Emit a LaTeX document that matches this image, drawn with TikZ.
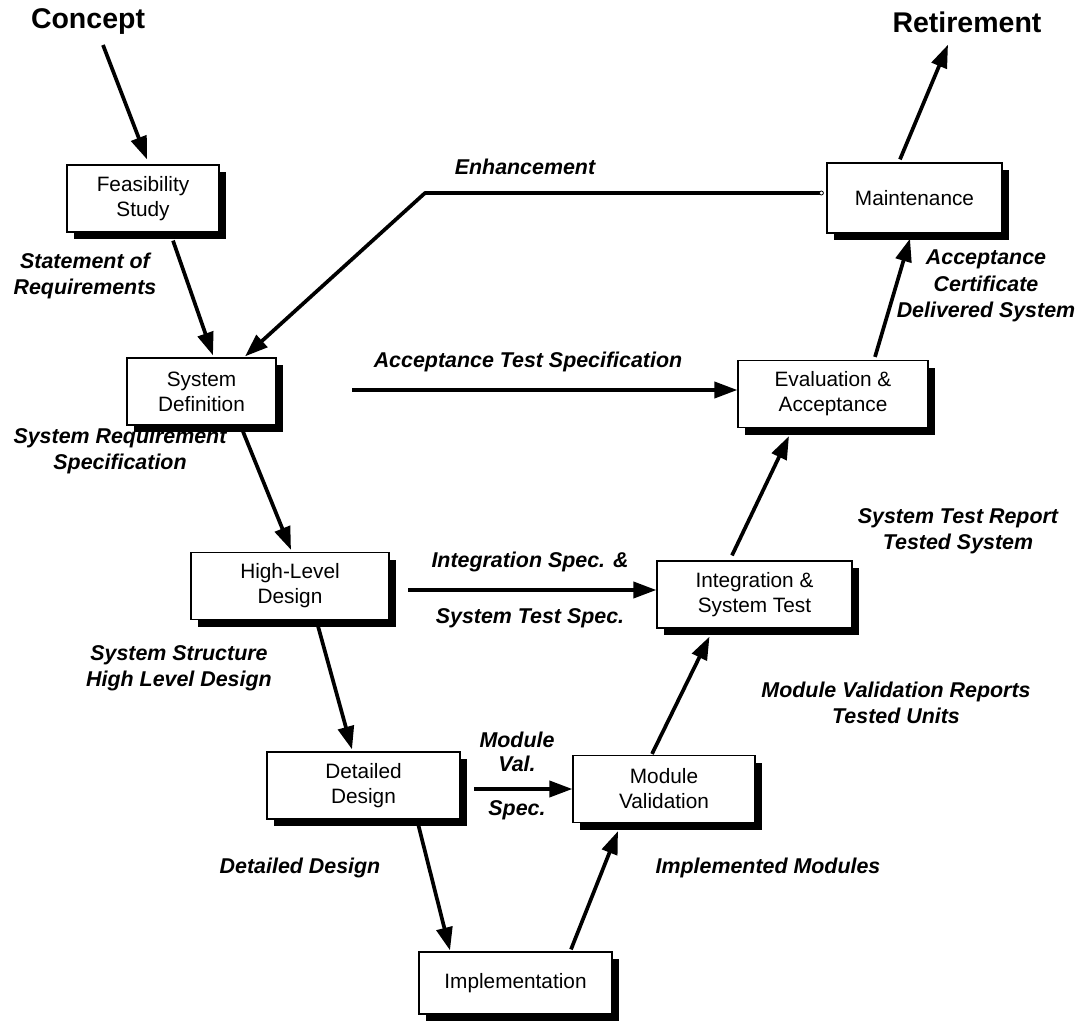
\documentclass[tikz,border=0pt]{standalone}
\usepackage{fontspec}
\setmainfont{Liberation Sans}
\usetikzlibrary{arrows.meta,shadows,calc}
\begin{document}
\begin{tikzpicture}[x=1pt,y=-1pt,
  box/.style={draw,line width=1.2pt,fill=white,minimum width=#1,minimum height=67pt,align=center,inner sep=0pt,
    font=\fontsize{20.8}{25}\selectfont,
    drop shadow={shadow xshift=7pt,shadow yshift=-7pt,fill=black,opacity=1}},
  lbl/.style={align=center,font=\fontsize{21.4}{26.5}\selectfont\bfseries\itshape,inner sep=0pt},
  big/.style={font=\fontsize{28.5}{32}\selectfont\bfseries,inner sep=0pt},
  arr/.style={line width=3.7pt,-{Triangle[length=23pt,width=16pt]}},
  plain/.style={line width=3.5pt}]
\useasboundingbox (0,0) rectangle (1085,1025);

% boxes
\node[box=152pt] (feas) at (143,198.5) {Feasibility\\Study};
\node[box=149pt] (sysdef) at (201.5,391.5) {System\\Definition};
\node[box=198pt] (high) at (290,586) {High-Level\\Design};
\node[box=193pt] (det) at (363.5,785.5) {Detailed\\Design};
\node[box=193pt,minimum height=62pt] (impl) at (515.5,983) {Implementation};
\node[box=182pt] (modval) at (664,789) {Module\\Validation};
\node[box=195pt] (integ) at (754.5,594.5) {Integration \&\\System Test};
\node[box=190pt] (eval) at (833,394) {Evaluation \&\\Acceptance};
\node[box=175pt,minimum height=70pt] (maint) at (914.5,198) {Maintenance};

% top labels
\node[big] (concept) at (88,22) {Concept};
\node[big] (retire) at (967,22) {Retirement};

% side labels
\node[lbl] (l1) at (525,167) {Enhancement};
\node[lbl] (l2) at (85,276) {Statement of\\Requirements};
\node[lbl] (l3) at (986,286) {Acceptance\\Certificate\\Delivered System};
\node[lbl] (l4) at (528,362) {Acceptance Test Specification};
\node[lbl] (l5) at (120,451) {System Requirement\\Specification};
\node[lbl] (l6) at (958,531) {System Test Report\\Tested System};
\node[lbl] (l7) at (530,562) {Integration Spec. \&};
\node[lbl] (l8) at (530,618) {System Test Spec.};
\node[lbl] (l9) at (179,668) {System Structure\\High Level Design};
\node[lbl] (l10) at (896,703) {Module Validation Reports\\Tested Units};
\node[lbl] (l11) at (517,740) {Module};
\node[lbl] (l12) at (517,764) {Val.};
\node[lbl] (l13) at (517,810) {Spec.};
\node[lbl] (l14) at (300,868) {Detailed Design};
\node[lbl] (l15) at (768,868) {Implemented Modules};

% connectors
\coordinate (cstart) at (103,45);
\draw[arr] (cstart) -- ([xshift=4pt,yshift=5pt]feas.north);
\draw[arr] ([xshift=30pt,yshift=-8pt]feas.south) -- ([xshift=11.5pt,yshift=2pt]sysdef.north);
\draw[arr] ([xshift=41.5pt,yshift=-6pt]sysdef.south) -- ([xshift=1pt,yshift=2pt]high.north);
\draw[arr] ([xshift=28pt,yshift=-6pt]high.south) -- ([xshift=-11.5pt,yshift=2pt]det.north);
\draw[arr] ([xshift=54.5pt,yshift=-4pt]det.south) -- ([xshift=-65.5pt,yshift=1pt]impl.north);
\draw[arr] ([xshift=55.5pt,yshift=2pt]impl.north) -- ([xshift=-46pt,yshift=-8pt]modval.south);
\draw[arr] ([xshift=-12pt,yshift=1pt]modval.north) -- ([xshift=-45pt,yshift=-8pt]integ.south);
\draw[arr] ([xshift=-22.5pt,yshift=5pt]integ.north) -- ([xshift=-44pt,yshift=-8pt]eval.south);
\draw[arr] ([xshift=42pt,yshift=3pt]eval.north) -- ([xshift=-4.5pt,yshift=-5pt]maint.south);
\draw[arr] ([xshift=-14.5pt,yshift=3pt]maint.north) -- ([xshift=-19pt,yshift=-12pt]retire.south);

% horizontal
\coordinate (h1) at (352,390);
\draw[arr] (h1) -- (h1 -| eval.west);
\coordinate (h2) at (408,590);
\draw[arr] (h2) -- (h2 -| integ.west);
\coordinate (h3) at (474,789);
\draw[arr] (h3) -- (h3 -| modval.west);

% enhancement
\coordinate (ecorner) at (425,193);
\coordinate (estart) at ($(ecorner -| maint.west)+(-5,0)$);
\draw[arr,line join=round] (estart) -- (ecorner) -- ([xshift=43.5pt,yshift=1pt]sysdef.north);
\draw[line width=0.8pt,fill=white] (estart) circle[radius=2pt];
\end{tikzpicture}
\end{document}
